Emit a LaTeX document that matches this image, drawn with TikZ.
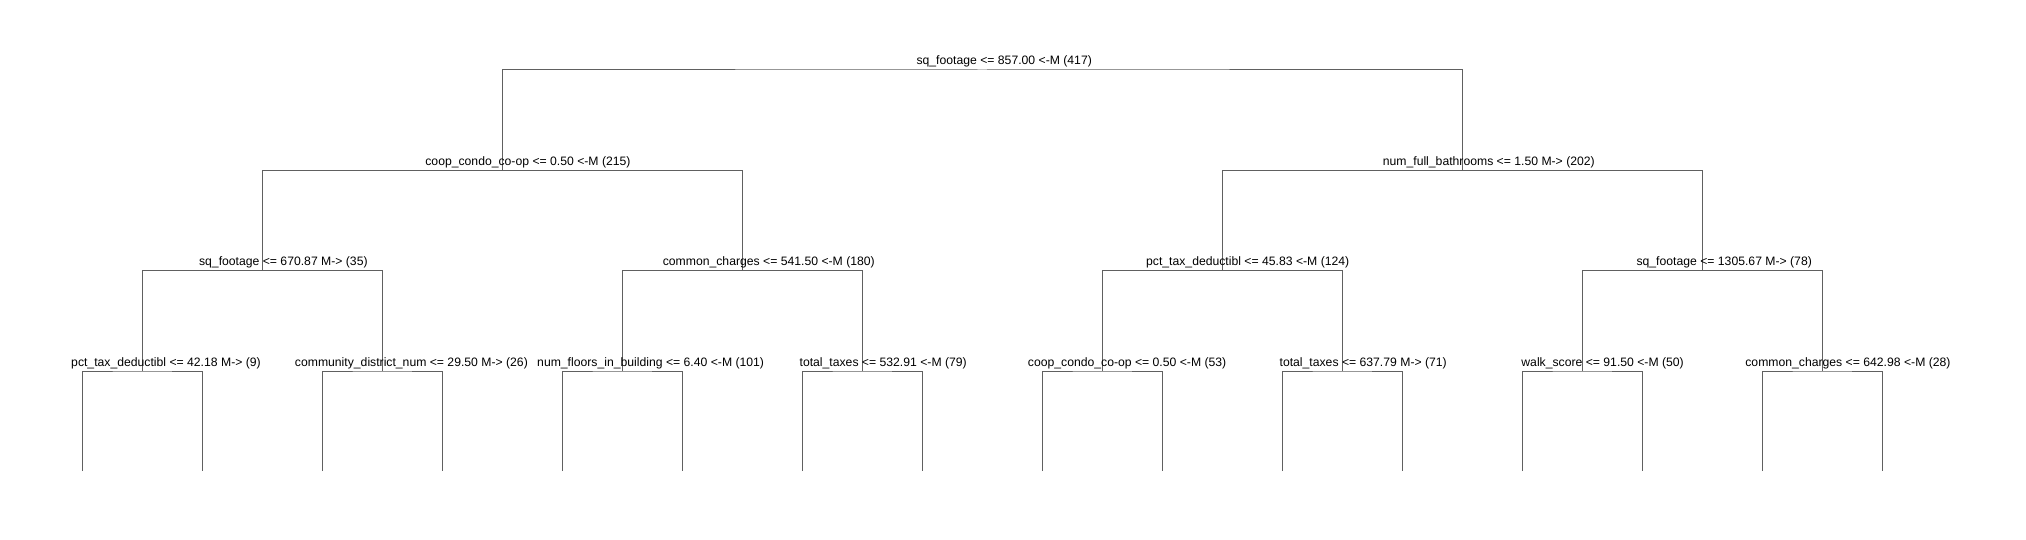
\documentclass[tikz,border=0pt]{standalone}
\usepackage{fontspec}
\setmainfont{Liberation Sans}
\definecolor{treegray}{HTML}{606060}
\newcommand\labfont{\fontsize{12.2}{14}\selectfont}
\newcommand\splitlabel[3]{%
  \node[lab] (#1) at (#2) {\makebox[1.25\width][r]{#3}};}
\begin{document}
\begin{tikzpicture}[x=1pt,y=-1pt,
  edge/.style={draw=treegray, line width=1pt},
  lab/.style={anchor=base, inner sep=0pt, font=\labfont, yshift=5pt}]
\useasboundingbox (0,0) rectangle (2026,540);
% split points
\coordinate (n0) at (982.3,70);
\coordinate (n1) at (502.3,170.3);
\coordinate (n2) at (1462.3,170.3);
\coordinate (n11) at (262.3,270.7);
\coordinate (n12) at (742.3,270.7);
\coordinate (n21) at (1222.3,270.7);
\coordinate (n22) at (1702.3,270.7);
\foreach \i in {0,...,7} {
  \coordinate (m\i) at ({142.3+240*\i},371);
}
\foreach \i in {0,...,15} {
  \coordinate (l\i) at ({82.3+120*\i},471);
}
% connectors
\draw[edge] (n1) |- (n0) -| (n2);
\draw[edge] (n11) |- (n1) -| (n12);
\draw[edge] (n21) |- (n2) -| (n22);
\draw[edge] (m0) |- (n11) -| (m1);
\draw[edge] (m2) |- (n12) -| (m3);
\draw[edge] (m4) |- (n21) -| (m5);
\draw[edge] (m6) |- (n22) -| (m7);
\foreach \i in {0,...,7} {
  \pgfmathtruncatemacro\a{2*\i}
  \pgfmathtruncatemacro\b{2*\i+1}
  \draw[edge] (l\a) |- (m\i) -| (l\b);
}
% labels
\splitlabel{t0}{n0}{sq\_footage <= 857.00 <-M (417)}
\splitlabel{t1}{n1}{coop\_condo\_co-op <= 0.50 <-M (215)}
\splitlabel{t2}{n2}{num\_full\_bathrooms <= 1.50 M-> (202)}
\splitlabel{t11}{n11}{sq\_footage <= 670.87 M-> (35)}
\splitlabel{t12}{n12}{common\_charges <= 541.50 <-M (180)}
\splitlabel{t21}{n21}{pct\_tax\_deductibl <= 45.83 <-M (124)}
\splitlabel{t22}{n22}{sq\_footage <= 1305.67 M-> (78)}
\splitlabel{u0}{m0}{pct\_tax\_deductibl <= 42.18 M-> (9)}
\splitlabel{u1}{m1}{community\_district\_num <= 29.50 M-> (26)}
\splitlabel{u2}{m2}{num\_floors\_in\_building <= 6.40 <-M (101)}
\splitlabel{u3}{m3}{total\_taxes <= 532.91 <-M (79)}
\splitlabel{u4}{m4}{coop\_condo\_co-op <= 0.50 <-M (53)}
\splitlabel{u5}{m5}{total\_taxes <= 637.79 M-> (71)}
\splitlabel{u6}{m6}{walk\_score <= 91.50 <-M (50)}
\splitlabel{u7}{m7}{common\_charges <= 642.98 <-M (28)}
\end{tikzpicture}
\end{document}
